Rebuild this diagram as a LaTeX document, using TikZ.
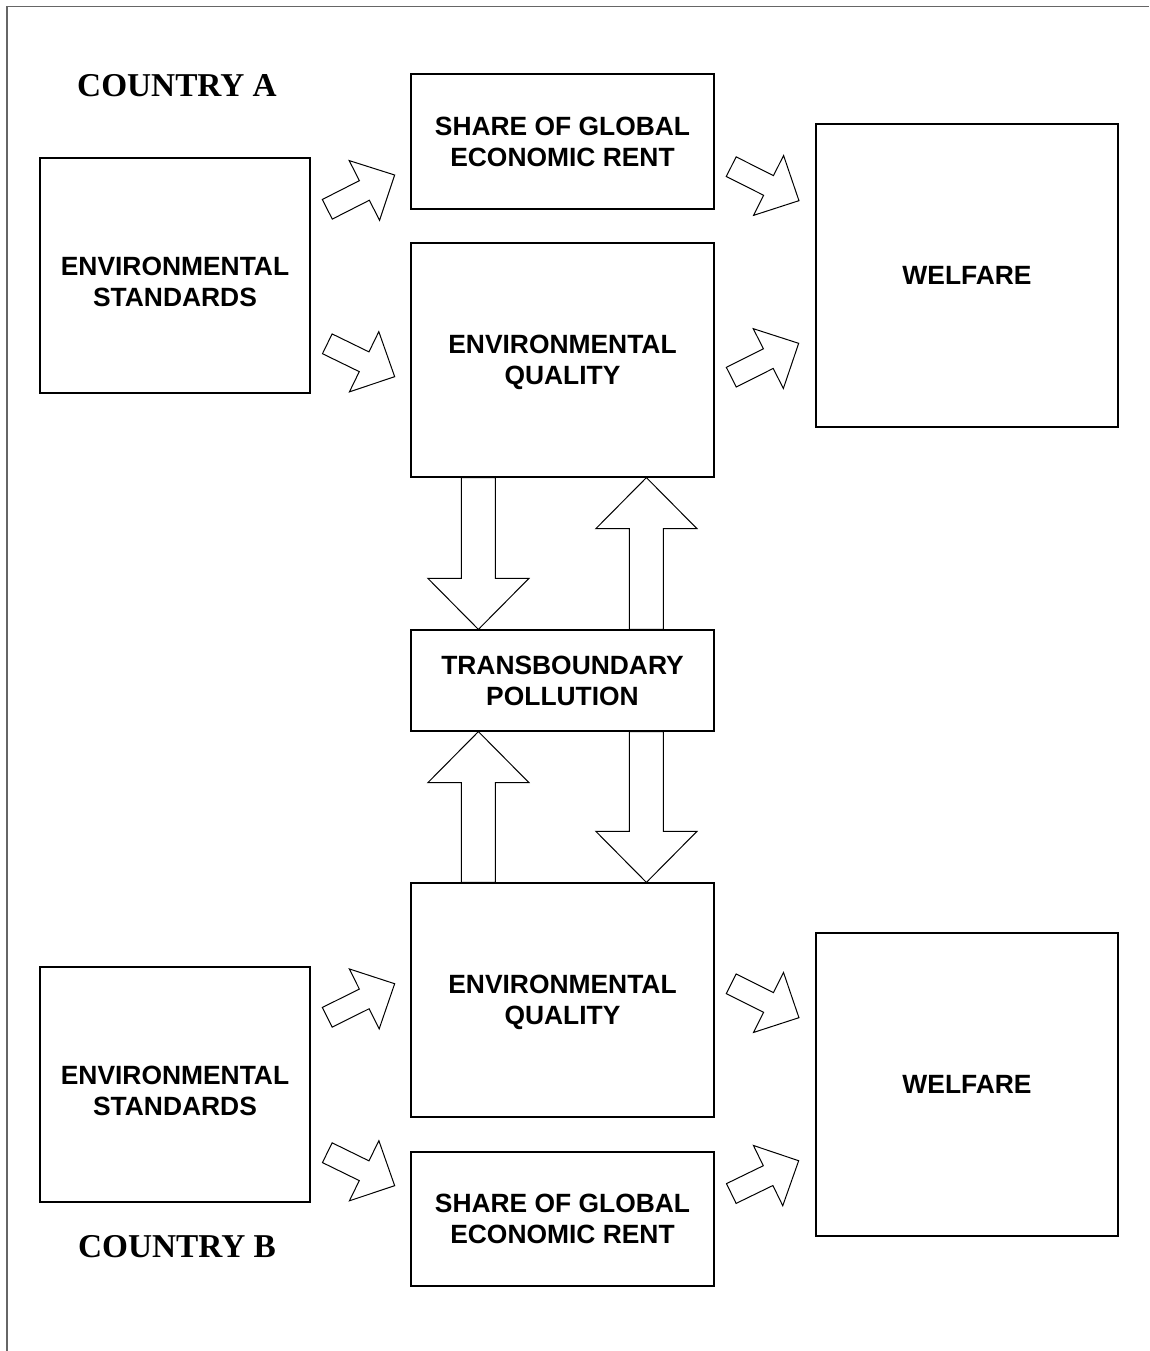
\documentclass[tikz,border=0pt]{standalone}
\usepackage{fontspec}
\setmainfont{Liberation Sans}
\newfontfamily\timesf{Liberation Serif}
\usetikzlibrary{calc}
\newdimen\baX
\newdimen\baY
\newcommand\blockarr[5]{%
  \pgfmathanglebetweenpoints{\pgfpointanchor{#1}{center}}{\pgfpointanchor{#2}{center}}%
  \let\baAng\pgfmathresult
  \pgfextractx{\baX}{\pgfpointdiff{\pgfpointanchor{#1}{center}}{\pgfpointanchor{#2}{center}}}%
  \pgfextracty{\baY}{\pgfpointdiff{\pgfpointanchor{#1}{center}}{\pgfpointanchor{#2}{center}}}%
  \pgfmathsetmacro\baLen{veclen(\baX,\baY)}%
  \draw[arrowline, shift={(#1)}, rotate=\baAng]
    (0,#3) -- ({\baLen-#4},#3) -- ({\baLen-#4},#5) -- (\baLen,0)
    -- ({\baLen-#4},-#5) -- ({\baLen-#4},-#3) -- (0,-#3) -- cycle;
}
\newcommand\lowr[2]{\raisebox{-#1}[\height][\depth]{\begin{tabular}{@{}c@{}}#2\end{tabular}}}
\tikzset{
  box/.style={draw=black, line width=1.2pt, fill=white, align=center,
    font=\bfseries\fontsize{26.4}{31}\selectfont, inner sep=0pt},
  arrowline/.style={draw=black, line width=1pt, fill=white, line join=miter},
  country/.style={font=\timesf\bfseries\fontsize{33.3}{38}\selectfont, inner sep=0pt},
}
\begin{document}
\begin{tikzpicture}[x=1pt,y=-1pt]
\useasboundingbox (0,0) rectangle (1149,1351);
\fill[white] (0,0) rectangle (1149,1351);
% frame
\draw[line width=1.5pt, draw=black!60] (7,1351) -- (7,6.7) -- (1149,6.7);

% Country A
\node[country] (cA) at (177,86) {COUNTRY A};
\node[box, minimum width=270, minimum height=235] (stdA) at (175,275.5) {\lowr{9pt}{ENVIRONMENTAL\\STANDARDS}};
\node[box, minimum width=303, minimum height=135] (shareA) at (562.5,141.5) {SHARE OF GLOBAL\\ECONOMIC RENT};
\node[box, minimum width=303, minimum height=234] (envqA) at (562.5,360) {\lowr{3pt}{ENVIRONMENTAL\\QUALITY}};
\node[box, minimum width=302, minimum height=303] (welfA) at (967,275.5) {WELFARE};

\node[box, minimum width=303, minimum height=101] (trans) at (562.5,680.5) {TRANSBOUNDARY\\POLLUTION};

% Country B
\node[box, minimum width=303, minimum height=234] (envqB) at (562.5,1000) {\lowr{3pt}{ENVIRONMENTAL\\QUALITY}};
\node[box, minimum width=270, minimum height=235] (stdB) at (175,1084.5) {\lowr{9pt}{ENVIRONMENTAL\\STANDARDS}};
\node[box, minimum width=302, minimum height=303] (welfB) at (967,1084.5) {WELFARE};
\node[box, minimum width=303, minimum height=134] (shareB) at (562.5,1219) {SHARE OF GLOBAL\\ECONOMIC RENT};
\node[country] (cB) at (177,1247) {COUNTRY B};

% diagonal arrow end points
\coordinate (a1t) at (327.3,209.3);  \coordinate (a1h) at (394.7,175);
\coordinate (a2t) at (327.3,343.8);  \coordinate (a2h) at (394.7,376.7);
\coordinate (a3t) at (731.2,166.7);  \coordinate (a3h) at (799,200.7);
\coordinate (a4t) at (731.3,377.2);  \coordinate (a4h) at (798.7,343.3);
\coordinate (a5t) at (327.3,1017.3); \coordinate (a5h) at (394.7,983.7);
\coordinate (a6t) at (327.3,1152.7); \coordinate (a6h) at (394.7,1185.7);
\coordinate (a7t) at (731.2,983.8);  \coordinate (a7h) at (799,1017.7);
\coordinate (a8t) at (731.3,1193.5); \coordinate (a8h) at (798.7,1160.7);

\foreach \i in {1,...,8}{\blockarr{a\i t}{a\i h}{11}{34}{33.5}}

% vertical arrows
\coordinate (v1t) at ($(envqA.south west)+(68,0)$);
\coordinate (v1h) at ($(trans.north west)+(68,0)$);
\coordinate (v2t) at ($(trans.north west)+(236,0)$);
\coordinate (v2h) at ($(envqA.south west)+(236,0)$);
\coordinate (v3t) at ($(envqB.north west)+(68,0)$);
\coordinate (v3h) at ($(trans.south west)+(68,0)$);
\coordinate (v4t) at ($(trans.south west)+(236,0)$);
\coordinate (v4h) at ($(envqB.north west)+(236,0)$);
\foreach \i in {1,...,4}{\blockarr{v\i t}{v\i h}{17}{51}{50.5}}
\end{tikzpicture}
\end{document}
